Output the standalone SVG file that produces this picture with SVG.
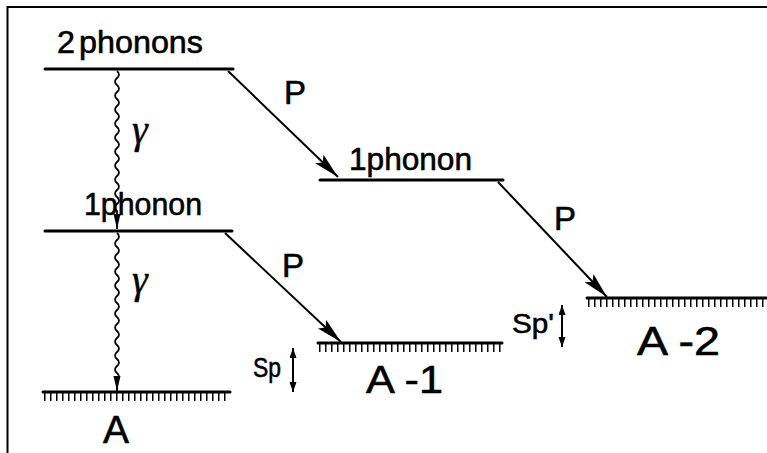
<svg xmlns="http://www.w3.org/2000/svg" width="767" height="453" viewBox="0 0 767 453">
<defs>
<style>
.lbl{font-family:"Liberation Sans",Arial,sans-serif;fill:#000;stroke:#000;stroke-width:0.6}
.gam{font-family:"Liberation Serif","Times New Roman",serif;font-style:italic;fill:#000;stroke:#000;stroke-width:0.4}
.lvl{stroke:#000;stroke-width:3;fill:none;stroke-linecap:round}
.hatch{stroke:#000;stroke-width:8;stroke-dasharray:1.5 4.5;fill:none}
.parr{stroke:#000;stroke-width:2;fill:none}
.wave{stroke:#000;stroke-width:1.8;fill:none}
.dbl{stroke:#000;stroke-width:2;fill:none}
</style>
<marker id="ah" markerUnits="userSpaceOnUse" markerWidth="28" markerHeight="14" refX="26" refY="6" orient="auto"><path d="M0,0 L26,6 L0,12 L5,6 Z" fill="#000"/></marker>
<marker id="ahs" markerUnits="userSpaceOnUse" markerWidth="16" markerHeight="8" refX="15" refY="3.5" orient="auto"><path d="M0,0 L15,3.5 L0,7 Z" fill="#000"/></marker>
<marker id="ahd" markerUnits="userSpaceOnUse" markerWidth="11" markerHeight="8" refX="10" refY="3.5" orient="auto-start-reverse"><path d="M0,0 L10,3.5 L0,7 Z" fill="#000"/></marker>
</defs>
<rect width="767" height="453" fill="#fff"/>
<path d="M7.5,453 V7 H767" stroke="#000" stroke-width="2" fill="none"/>

<g id="level-2phonons">
<line class="lvl" x1="45" y1="69" x2="233" y2="69"/>
<text class="lbl" x="57" y="53" font-size="32" textLength="146" lengthAdjust="spacingAndGlyphs">2<tspan dx="4">phonons</tspan></text>
</g>
<g id="level-1phonon-left">
<line class="lvl" x1="45" y1="231" x2="232" y2="231"/>
<text class="lbl" x="84" y="215" font-size="32" textLength="118" lengthAdjust="spacingAndGlyphs">1phonon</text>
</g>
<g id="level-1phonon-right">
<line class="lvl" x1="320" y1="180" x2="503" y2="180"/>
<text class="lbl" x="349" y="170" font-size="32" textLength="123" lengthAdjust="spacingAndGlyphs">1phonon</text>
</g>
<g id="level-A">
<line class="lvl" x1="43" y1="392" x2="230" y2="392"/>
<line class="hatch" x1="44" y1="397" x2="230" y2="397"/>
<text class="lbl" x="103" y="443" font-size="39">A</text>
</g>
<g id="level-A-1">
<line class="lvl" x1="318" y1="343" x2="502" y2="343"/>
<line class="hatch" x1="319" y1="348" x2="502" y2="348"/>
<text class="lbl" x="366" y="393" font-size="39" textLength="77" lengthAdjust="spacingAndGlyphs">A -1</text>
</g>
<g id="level-A-2">
<line class="lvl" x1="587" y1="298" x2="767" y2="298"/>
<line class="hatch" x1="588" y1="303" x2="767" y2="303"/>
<text class="lbl" x="637" y="355" font-size="40" textLength="83" lengthAdjust="spacingAndGlyphs">A -2</text>
</g>

<g id="connectors">
<line class="parr" x1="228" y1="71" x2="338" y2="177" marker-end="url(#ah)"/>
<line class="parr" x1="225" y1="233" x2="341" y2="342" marker-end="url(#ah)"/>
<line class="parr" x1="498" y1="182" x2="607" y2="297" marker-end="url(#ah)"/>
<path class="wave" d="M117,71 q4,3.5 0,7 t0,7 t0,7 t0,7 t0,7 t0,7 t0,7 t0,7 t0,7 t0,7 t0,7 t0,7 t0,7 t0,7 t0,7 t0,7 t0,7 t0,7 t0,7 t0,7 L117,229" marker-end="url(#ahs)"/>
<path class="wave" d="M117,233 q4,3.5 0,7 t0,7 t0,7 t0,7 t0,7 t0,7 t0,7 t0,7 t0,7 t0,7 t0,7 t0,7 t0,7 t0,7 t0,7 t0,7 t0,7 t0,7 t0,7 t0,7 t0,7 L117,391" marker-end="url(#ahs)"/>
<line class="dbl" x1="293" y1="348" x2="293" y2="392" marker-start="url(#ahd)" marker-end="url(#ahd)"/>
<line class="dbl" x1="562" y1="305" x2="562" y2="347" marker-start="url(#ahd)" marker-end="url(#ahd)"/>
<text class="lbl" x="284" y="104" font-size="33">P</text>
<text class="lbl" x="282" y="277" font-size="33">P</text>
<text class="lbl" x="554" y="230" font-size="33">P</text>
<text class="gam" x="132" y="143" font-size="40">γ</text>
<text class="gam" x="132" y="293" font-size="40">γ</text>
<text class="lbl" x="253" y="377" font-size="28" textLength="28" lengthAdjust="spacingAndGlyphs">Sp</text>
<text class="lbl" x="512" y="333" font-size="28" textLength="42" lengthAdjust="spacingAndGlyphs">Sp'</text>
</g>
</svg>
